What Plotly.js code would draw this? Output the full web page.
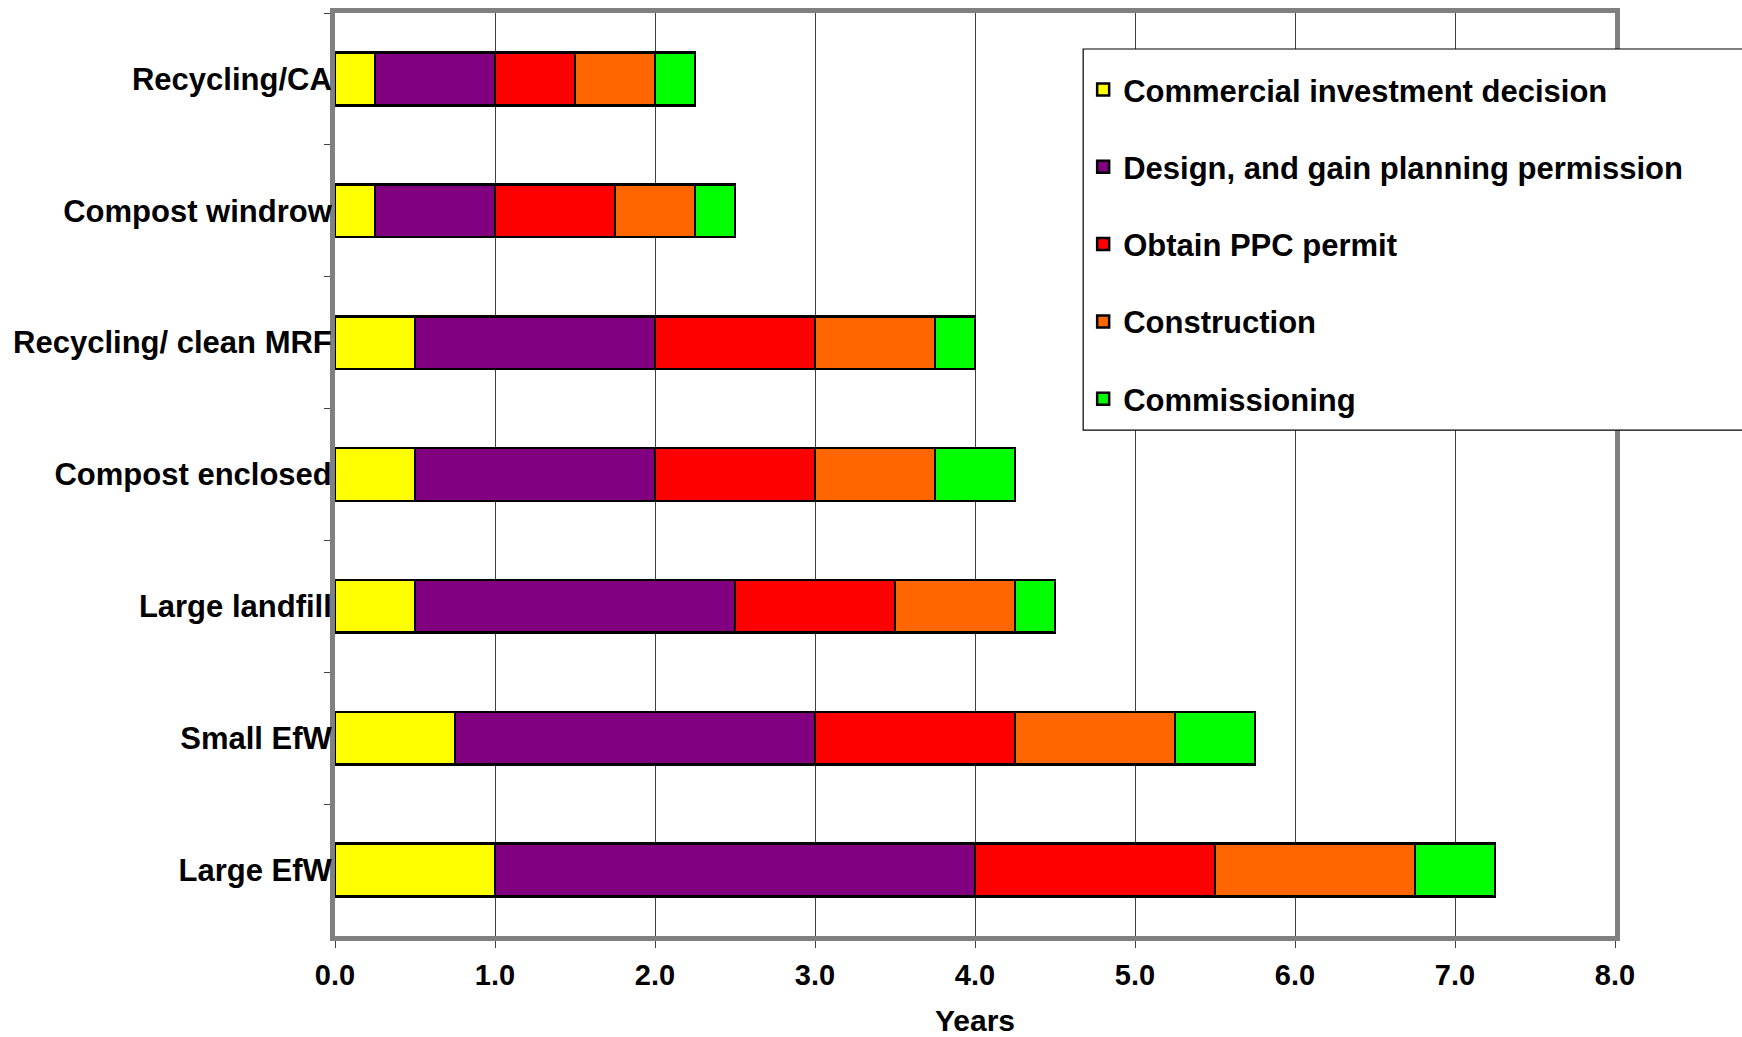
<!DOCTYPE html>
<html>
<head>
<meta charset="utf-8">
<script src="https://cdn.plot.ly/plotly-3.0.1.min.js"></script>
<style>
  html, body { margin: 0; padding: 0; background: #ffffff; }
  #chart { width: 1742px; height: 1037px; }
</style>
</head>
<body>
<div id="chart"></div>
<script>
// Categories (top to bottom)
const categories = ["Recycling/CA", "Compost windrow", "Recycling/ clean MRF", "Compost enclosed", "Large landfill", "Small EfW", "Large EfW"];

// Phase durations in years
const commercialDecision = [0.25, 0.25, 0.5, 0.5, 0.5, 0.75, 1.0];
const designPlanning     = [0.75, 0.75, 1.5, 1.5, 2.0, 2.25, 3.0];
const ppcPermit          = [0.5, 0.75, 1.0, 1.0, 1.0, 1.25, 1.5];
const construction       = [0.5, 0.5, 0.75, 0.75, 0.75, 1.0, 1.25];
const commissioning      = [0.25, 0.25, 0.25, 0.5, 0.25, 0.5, 0.5];

const seriesNames = ["Commercial investment decision", "Design, and gain planning permission", "Obtain PPC permit", "Construction", "Commissioning"];
const seriesValues = [commercialDecision, designPlanning, ppcPermit, construction, commissioning];
const seriesColors = ["#FFFF00", "#800080", "#FF0000", "#FF6600", "#00FF00"];

const xTickVals = [0, 1, 2, 3, 4, 5, 6, 7, 8];
const xTickText = ["0.0", "1.0", "2.0", "3.0", "4.0", "5.0", "6.0", "7.0", "8.0"];

const FONT = "Liberation Sans, Arial, sans-serif";

const traces = seriesNames.map((name, i) => ({
  type: "bar",
  orientation: "h",
  name: name,
  legendgroup: "g" + i,
  y: categories,
  x: seriesValues[i],
  marker: { color: seriesColors[i], line: { color: "#000000", width: 2.5 } },
  hoverinfo: "x+y+name"
}));

const layout = {
  width: 1742,
  height: 1037,
  paper_bgcolor: "#ffffff",
  plot_bgcolor: "#ffffff",
  barmode: "stack",
  bargap: 0.6,
  margin: { l: 335, r: 127, t: 13, b: 101 },
  font: { family: FONT, size: 31, color: "#000000", weight: "bold" },
  showlegend: true,
  legend: {
    x: 0.5845, xanchor: "left",
    y: 0.946, yanchor: "top",
    bgcolor: "rgba(0,0,0,0)",
    borderwidth: 0,
    traceorder: "grouped",
    tracegroupgap: 34,
    font: { family: FONT, size: 31, color: "#000000", weight: "bold" },
    itemwidth: 30
  },
  shapes: [{
    type: "rect", xref: "paper", yref: "paper",
    x0: 0.5845, x1: 1.2, y0: 0.548, y1: 0.961,
    line: { color: "#000000", width: 1.2 },
    fillcolor: "#ffffff",
    layer: "above"
  }],
  xaxis: {
    range: [0, 8],
    tickvals: xTickVals,
    ticktext: xTickText,
    showgrid: true,
    gridcolor: "#404040",
    gridwidth: 1,
    zeroline: false,
    showline: true,
    mirror: true,
    linecolor: "#808080",
    linewidth: 5,
    ticks: "outside",
    ticklen: 7,
    tickcolor: "#404040",
    tickwidth: 1,
    ticklabelstandoff: 2,
    tickfont: { family: FONT, size: 29, color: "#000000", weight: "bold" },
    title: { text: "Years", standoff: 22, font: { family: FONT, size: 30, color: "#000000", weight: "bold" } },
    fixedrange: true
  },
  yaxis: {
    type: "category",
    categoryorder: "array",
    categoryarray: categories,
    range: [6.5, -0.5],
    showgrid: false,
    zeroline: false,
    showline: true,
    mirror: true,
    linecolor: "#808080",
    linewidth: 5,
    ticks: "outside",
    tickson: "boundaries",
    ticklen: 6,
    tickcolor: "#404040",
    tickwidth: 1,
    ticklabelstandoff: -8,
    tickfont: { family: FONT, size: 31, color: "#000000", weight: "bold" },
    fixedrange: true
  }
};

Plotly.newPlot("chart", traces, layout, { displayModeBar: false, staticPlot: false });
</script>
</body>
</html>
